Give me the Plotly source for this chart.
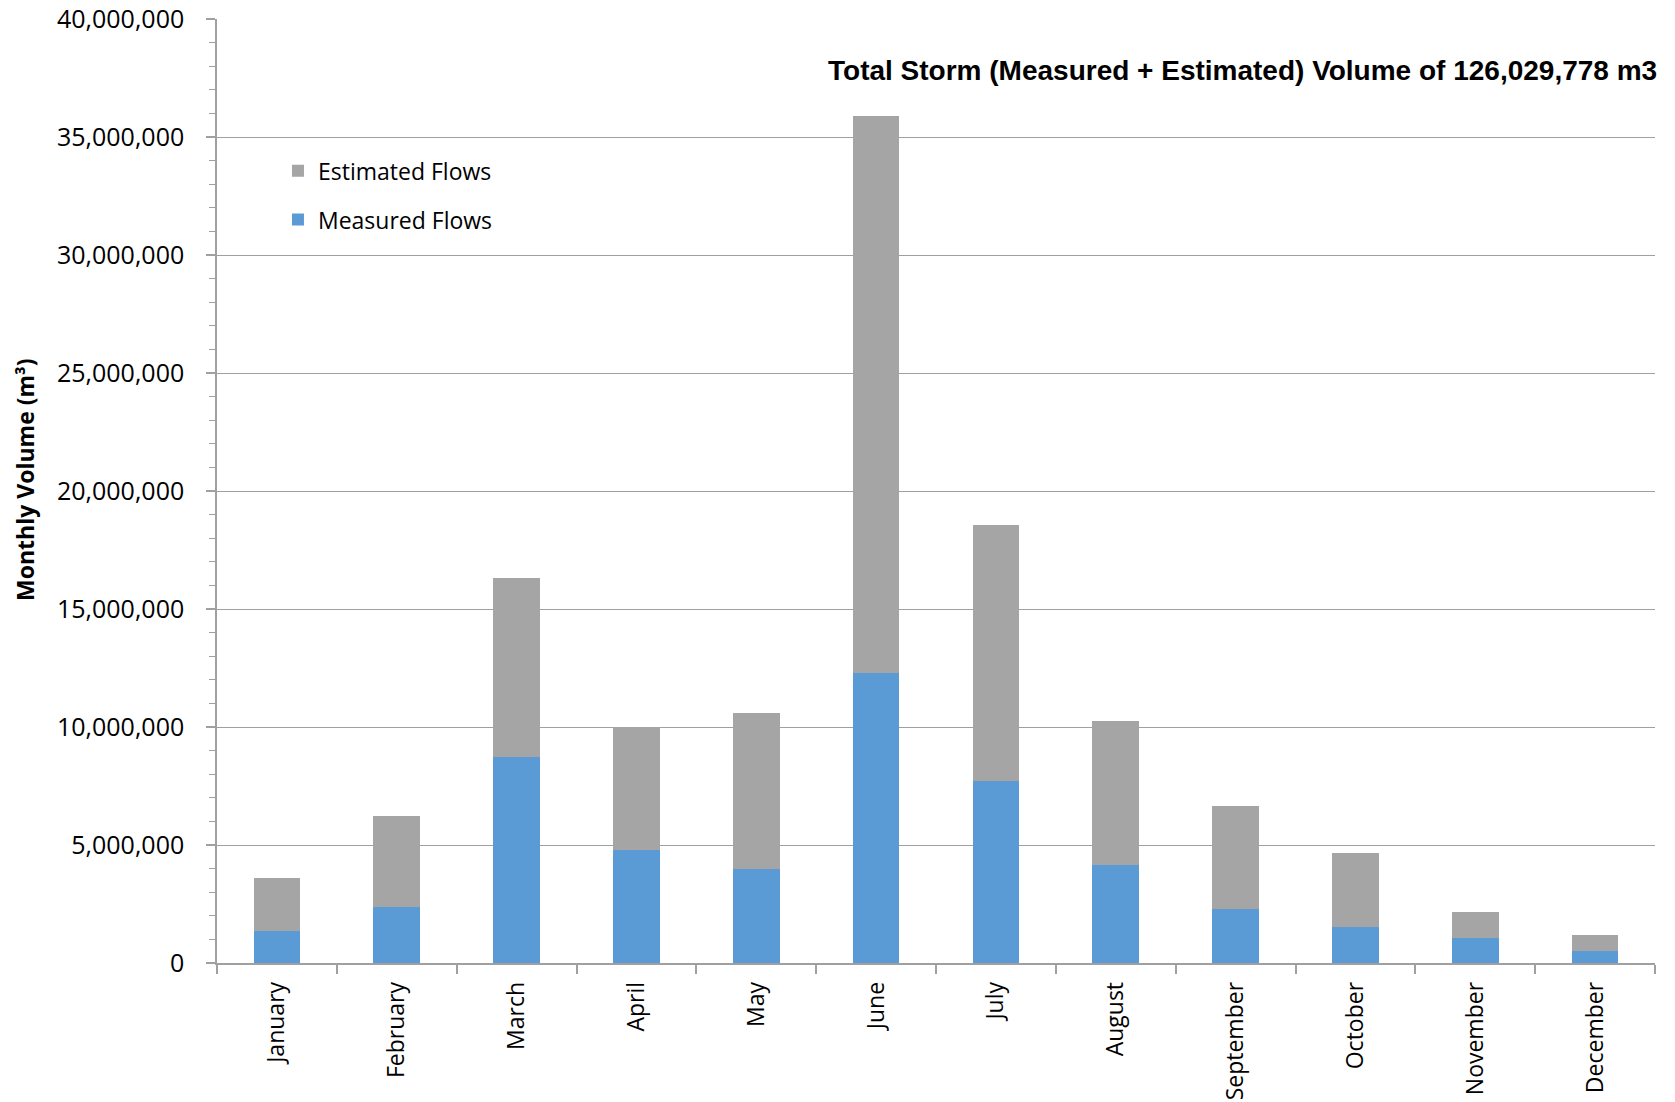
import plotly.graph_objects as go

# Monthly storm volumes (m³)
months = ["January", "February", "March", "April", "May", "June",
          "July", "August", "September", "October", "November", "December"]
measured = [1350000, 2370000, 8720000, 4790000, 3970000, 12280000,
            7730000, 4160000, 2300000, 1530000, 1080000, 520000]
estimated = [2250000, 3880000, 7590000, 5210000, 6640000, 23600000,
             10840000, 6090000, 4340000, 3130000, 1080000, 650000]
y_tickvals = [0, 5000000, 10000000, 15000000, 20000000, 25000000,
              30000000, 35000000, 40000000]
y_ticktext = ["0", "5,000,000", "10,000,000", "15,000,000", "20,000,000",
              "25,000,000", "30,000,000", "35,000,000", "40,000,000"]
total_label = "Total Storm (Measured + Estimated) Volume of 126,029,778 m3"

BLUE = "#5B9BD5"
GRAY = "#A5A5A5"
AXIS = "#A0A0A0"
FONT = "Open Sans"

fig = go.Figure()
fig.add_trace(go.Bar(x=months, y=measured, name="Measured Flows",
                     marker=dict(color=BLUE, line=dict(width=0)),
                     legendgroup="m", legendrank=2))
fig.add_trace(go.Bar(x=months, y=estimated, name="Estimated Flows",
                     marker=dict(color=GRAY, line=dict(width=0)),
                     legendgroup="e", legendrank=1))

fig.update_layout(
    width=1675, height=1102,
    margin=dict(l=217, r=20, t=19, b=139),
    barmode="stack", bargap=0.61,
    plot_bgcolor="white", paper_bgcolor="white",
    font=dict(family=FONT, size=23, color="black"),
    showlegend=True,
    legend=dict(x=0.0424, y=0.862, xanchor="left", yanchor="top",
                traceorder="grouped", tracegroupgap=16,
                font=dict(family=FONT, size=23, color="black"),
                bgcolor="rgba(0,0,0,0)"),
    xaxis=dict(
        automargin=False,
        showline=True, linecolor=AXIS, linewidth=1.5,
        ticks="outside", tickson="boundaries", ticklen=9, tickcolor=AXIS,
        tickwidth=1.5, tickangle=-90, ticklabelstandoff=8,
        tickfont=dict(family=FONT, size=23, color="black"),
        showgrid=False,
    ),
    yaxis=dict(
        automargin=False,
        range=[0, 40000000], tickvals=y_tickvals, ticktext=y_ticktext,
        showline=True, linecolor=AXIS, linewidth=1.5,
        ticks="outside", ticklen=9, tickcolor=AXIS, tickwidth=1.5,
        ticklabelstandoff=17,
        tickfont=dict(family=FONT, size=25, color="black"),
        showgrid=True, gridcolor=AXIS, gridwidth=1.2,
        zeroline=False,
        minor=dict(dtick=1000000, ticks="outside", ticklen=6,
                   tickcolor=AXIS, tickwidth=1.2, showgrid=False),
    ),
    annotations=[
        dict(text="<b>Monthly Volume (m³)</b>", xref="paper", yref="paper",
             x=-0.134, y=0.512, xanchor="center", yanchor="middle",
             textangle=-90, showarrow=False,
             font=dict(family=FONT, size=23, color="black")),
        dict(text="<b>" + total_label + "</b>", xref="paper", yref="paper",
             x=1.003, y=0.9454, xanchor="right", yanchor="middle",
             showarrow=False,
             font=dict(family="Liberation Sans", size=28, color="black")),
    ],
)

fig.write_html("out.html")
